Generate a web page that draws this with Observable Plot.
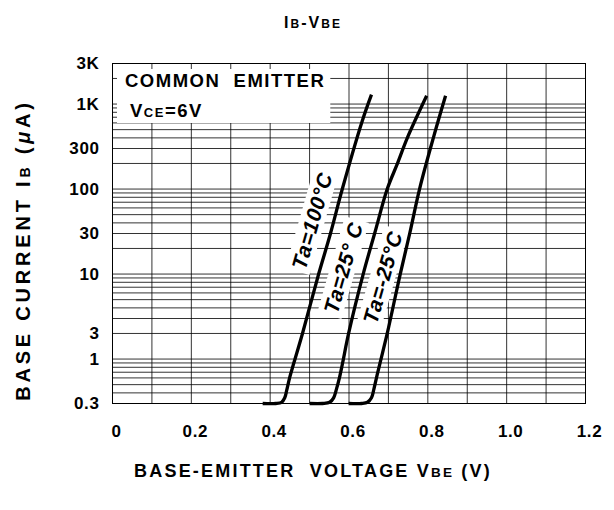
<!DOCTYPE html>
<html>
<head>
<meta charset="utf-8">
<script src="https://cdn.jsdelivr.net/npm/d3@7"></script>
<script src="https://cdn.jsdelivr.net/npm/@observablehq/plot@0.6"></script>
<style>
html, body { margin: 0; padding: 0; background: #fff; }
#chart svg { display: block; }
</style>
</head>
<body>
<div id="chart"></div>
<script>
// ---------- data ----------
const seriesNames = ["Ta=100°C", "Ta=25°C", "Ta=-25°C"];
const labelText   = ["Ta=100°C", "Ta=25° C", "Ta=-25°C"];

const vbe100 = [0.381, 0.414, 0.429, 0.437, 0.442, 0.4496, 0.4604, 0.482, 0.523, 0.553, 0.583, 0.632, 0.657];
const ib100  = [0.3,   0.3,   0.31,  0.35,  0.43,  0.61,   0.91,   2,     10,    30,    100,   600,   1290];

const vbe25  = [0.500, 0.533, 0.551, 0.561, 0.568, 0.576, 0.584, 0.599, 0.636, 0.665, 0.697, 0.723, 0.748, 0.797];
const ib25   = [0.3,   0.3,   0.31,  0.35,  0.44,  0.61,  0.91,  2,     10,    30,    100,   200,   400,   1250];

const vbeM25 = [0.599, 0.632, 0.647, 0.657, 0.663, 0.670, 0.679, 0.697, 0.730, 0.754, 0.779, 0.814, 0.845];
const ibM25  = [0.3,   0.3,   0.31,  0.35,  0.44,  0.61,  0.91,  2,     10,    30,    100,   400,   1250];

// curve label anchors (data coordinates)
const labelVbe = [0.508, 0.587, 0.687];
const labelIb  = [42, 11.8, 9.1];

// axes
const xTicks      = [0, 0.2, 0.4, 0.6, 0.8, 1.0, 1.2];
const xTickLabels = ["0", "0.2", "0.4", "0.6", "0.8", "1.0", "1.2"];
const yTicks      = [0.3, 1, 2, 10, 30, 100, 300, 1000, 3000];
const yTickLabels = ["0.3", "1", "3", "10", "30", "100", "300", "1K", "3K"];

const xGrid = [0, 0.1, 0.2, 0.3, 0.4, 0.5, 0.6, 0.7, 0.8, 0.9, 1.0, 1.1, 1.2];
const yGrid = [0.3, 0.4, 0.5, 0.6, 0.7, 0.8, 0.9,
               1, 2, 3, 4, 5, 6, 7, 8, 9,
               10, 20, 30, 40, 50, 60, 70, 80, 90,
               100, 200, 300, 400, 500, 600, 700, 800, 900,
               1000, 2000, 3000];

// ---------- build tables ----------
const curves = [[vbe100, ib100], [vbe25, ib25], [vbeM25, ibM25]];
const rows = [];
curves.forEach(([vs, is], k) => vs.forEach((v, j) => rows.push({series: seriesNames[k], v, i: is[j]})));
const labels = labelText.map((t, k) => ({t, v: labelVbe[k], i: labelIb[k]}));
const yTickRows = yTicks.map((v, k) => ({v, t: yTickLabels[k]}));

const FONT = "'Liberation Sans', Arial, Helvetica, sans-serif";

const plot = Plot.plot({
  width: 614,
  height: 510,
  marginLeft: 112,
  marginRight: 29,
  marginTop: 63,
  marginBottom: 107,
  style: {fontFamily: FONT, fontWeight: "bold", background: "#fff", color: "#000"},
  x: {domain: [0, 1.2]},
  y: {type: "log", domain: [0.3, 3000], axis: null},
  marks: [
    Plot.ruleX(xGrid, {stroke: "#000", strokeWidth: 1, strokeOpacity: 0.8}),
    Plot.ruleY(yGrid, {stroke: "#000", strokeWidth: 1, strokeOpacity: 0.8}),
    Plot.frame({stroke: "#000", strokeWidth: 1}),
    Plot.axisX(xTicks, {
      tickSize: 0, tickPadding: 21, dx: 4, fontSize: 17, fontWeight: "bold",
      tickFormat: d => xTickLabels[xTicks.indexOf(d)], label: null
    }),
    Plot.text(yTickRows, {
      y: "v", text: "t", frameAnchor: "left", dx: -13, textAnchor: "end",
      lineAnchor: "middle", fontSize: 17, fontWeight: "bold", fill: "#000"
    }),
    Plot.text(labels, {
      x: "v", y: "i", text: "t", rotate: -74,
      fontSize: 21, fontWeight: "bold", fontStyle: "italic",
      textAnchor: "middle", lineAnchor: "middle", fill: "#000"
    }),
    Plot.line(rows, {x: "v", y: "i", z: "series", stroke: "#000", strokeWidth: 3.3,
      curve: "catmull-rom", strokeLinecap: "butt"})
  ]
});

document.getElementById("chart").appendChild(plot);

const svg = d3.select(plot);
svg.selectAll("text").style("letter-spacing", "0.6px");

// white boxes behind the rotated curve labels (hide the grid like the reference)
svg.selectAll("text").filter(function() { return this.textContent.startsWith("Ta="); })
  .each(function() {
    const t = this;
    const g = d3.select(t.parentNode);
    const b = t.getBBox();
    const pad = 3;
    g.insert("rect", ":first-child")
      .attr("x", b.x - pad).attr("y", b.y - 1)
      .attr("width", b.width + 2 * pad).attr("height", b.height + 2)
      .attr("transform", t.getAttribute("transform"))
      .attr("fill", "#fff").attr("stroke", "none");
  });

function rich(parent, parts, opts) {
  const t = parent.append("text")
    .attr("x", opts.x || 0).attr("y", opts.y || 0)
    .attr("text-anchor", opts.anchor || "start")
    .attr("font-family", FONT).attr("font-weight", "bold")
    .attr("font-size", opts.size).attr("fill", "#000")
    .style("letter-spacing", (opts.ls || 0) + "px")
    .style("white-space", "pre");
  if (opts.transform) t.attr("transform", opts.transform);
  for (const p of parts) {
    const s = t.append("tspan").text(p.t);
    if (p.size) s.attr("font-size", p.size);
    if (p.italic) s.attr("font-style", "italic");
  }
  return t;
}

// title
rich(svg, [{t: "I"}, {t: "B", size: 12}, {t: "-V"}, {t: "BE", size: 12}],
  {x: 313, y: 28, anchor: "middle", size: 16, ls: 2});

// y axis title
rich(svg, [{t: "BASE CURRENT I"}, {t: "B", size: 14}, {t: " ("}, {t: "μ", italic: true}, {t: "A)"}],
  {anchor: "middle", size: 20, ls: 3.8, transform: "translate(30,250) rotate(-90)"});

// x axis title
rich(svg, [{t: "BASE-EMITTER  VOLTAGE V"}, {t: "BE", size: 13.5}, {t: " (V)"}],
  {x: 313, y: 477, anchor: "middle", size: 18, ls: 2.2});

// annotation box
const ann = svg.append("g");
const a1 = rich(ann, [{t: "COMMON  EMITTER"}], {x: 125, y: 87, size: 18.5, ls: 1.5});
const a2 = rich(ann, [{t: "V"}, {t: "CE", size: 13}, {t: "=6V"}], {x: 130, y: 117, size: 18.5, ls: 1.5});
const b1 = a1.node().getBBox(), b2 = a2.node().getBBox();
const bx0 = Math.min(b1.x, b2.x) - 8, bx1 = Math.max(b1.x + b1.width, b2.x + b2.width) + 5;
const by0 = Math.min(b1.y, b2.y) - 1, by1 = Math.max(b1.y + b1.height, b2.y + b2.height) + 2;
ann.insert("rect", ":first-child")
  .attr("x", bx0).attr("y", by0).attr("width", bx1 - bx0).attr("height", by1 - by0)
  .attr("fill", "#fff");
</script>
</body>
</html>
